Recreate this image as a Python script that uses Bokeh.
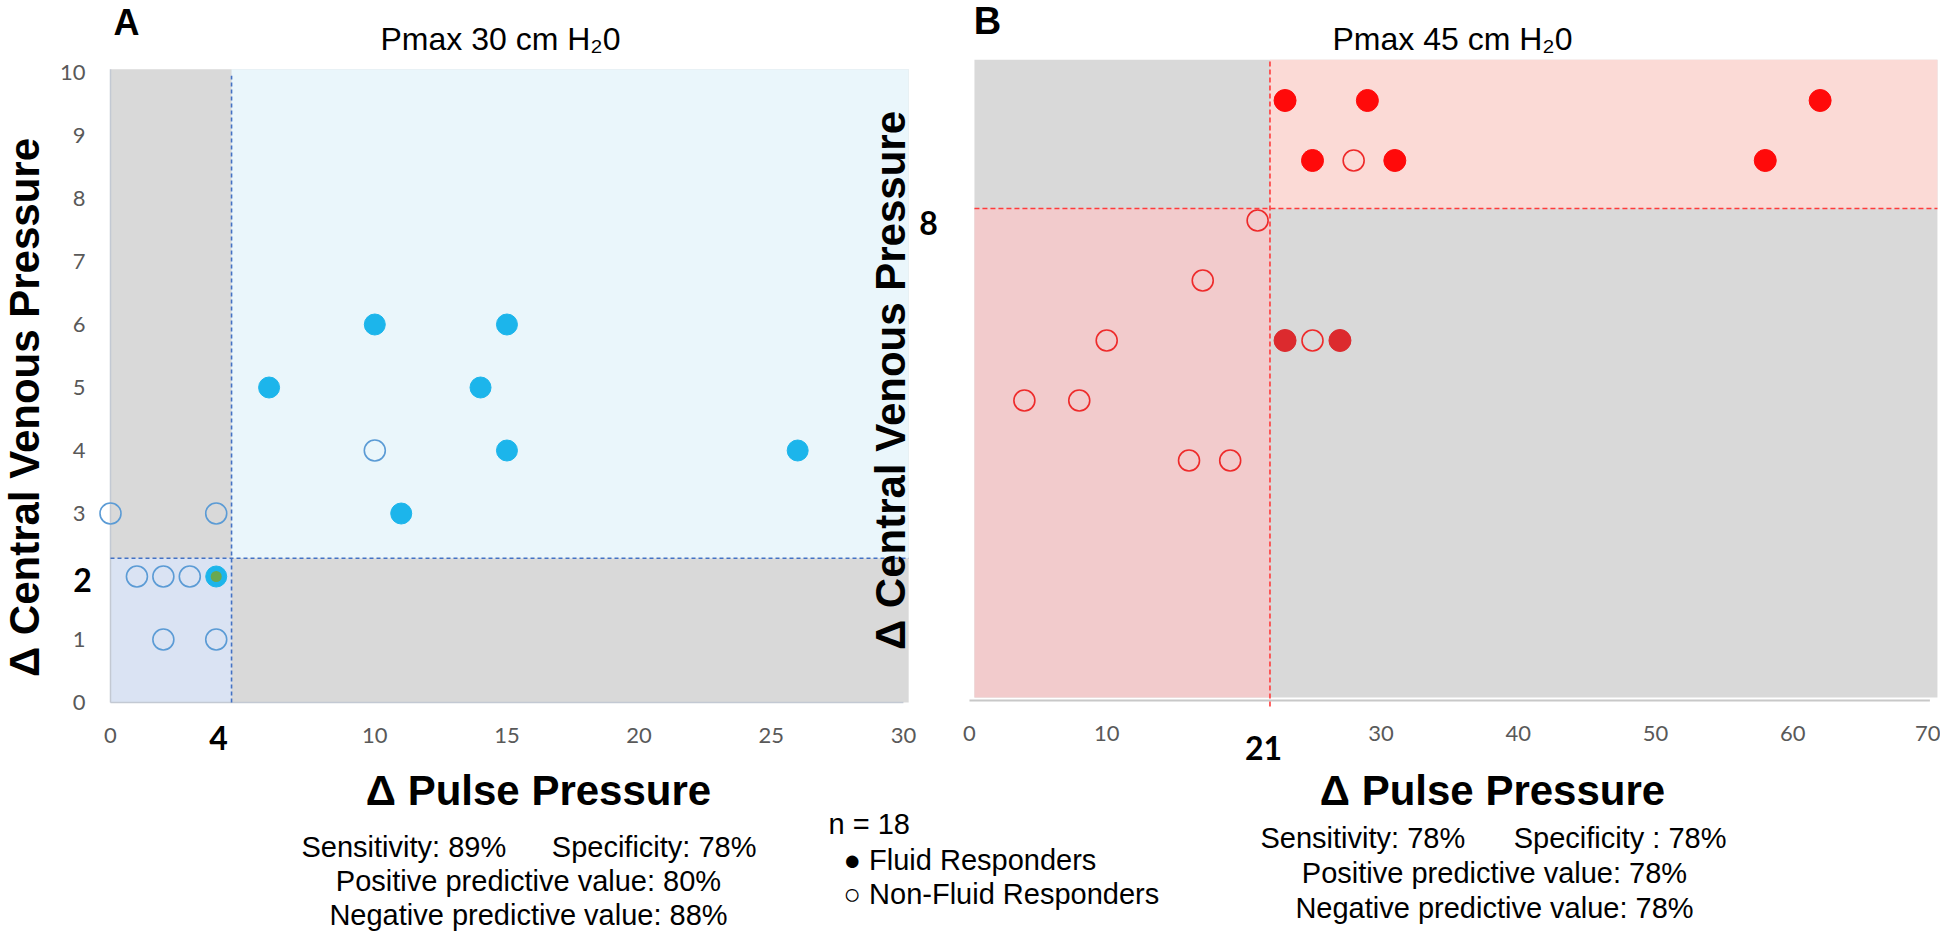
import math
from bokeh.plotting import figure
from bokeh.models import Range1d, FixedTicker, Label
from bokeh.layouts import row, column
from bokeh.embed import file_html
from bokeh.resources import INLINE

# ---------------- data ----------------
a_title = "Pmax 30 cm H₂0"
b_title = "Pmax 45 cm H₂0"
y_label = "Δ Central Venous Pressure"
x_label = "Δ Pulse Pressure"

# panel A (Pmax 30)
a_fill_x = [10, 15, 6, 14, 15, 26, 11, 4]
a_fill_y = [6, 6, 5, 5, 4, 4, 3, 2]
a_open_x = [10, 0, 4, 1, 2, 3, 2, 4]
a_open_y = [4, 3, 3, 2, 2, 2, 1, 1]
a_both_x = [4]
a_both_y = [2]
a_cut_x = 4.58
a_cut_y = 2.29
a_xmax = 30.2
a_ymax = 10.05
a_xticks = [0, 10, 15, 20, 25, 30]
a_yticks = [0, 1, 3, 4, 5, 6, 7, 8, 9, 10]
a_cut_x_label = "4"
a_cut_y_label = "2"

# panel B (Pmax 45)
b_fill_x = [23, 29, 62, 25, 31, 58]
b_fill_y = [10, 10, 10, 9, 9, 9]
b_dark_x = [23, 27]
b_dark_y = [6, 6]
b_open_x = [28, 21, 17, 10, 25, 4, 8, 16, 19]
b_open_y = [9, 8, 7, 6, 6, 5, 5, 4, 4]
b_cut_x = 21.9
b_cut_y = 8.2
b_xmin = 0.36
b_xmax = 70.55
b_ymin = 0.05
b_ymax = 10.68
b_xticks = [0, 10, 30, 40, 50, 60, 70]
b_cut_x_label = "21"
b_cut_y_label = "8"

a_stats = ["Sensitivity: 89%", "Specificity: 78%",
           "Positive predictive value: 80%", "Negative predictive value: 88%"]
b_stats = ["Sensitivity: 78%", "Specificity : 78%",
           "Positive predictive value: 78%", "Negative predictive value: 78%"]
legend_lines = ["n = 18", "● Fluid Responders", "○ Non-Fluid Responders"]

# ---------------- layout constants (page pixels) ----------------
PAGE_W, PAGE_H = 1940, 931
TOP_H = 766
A_W = 918
B_W = PAGE_W - A_W
C_H = PAGE_H - TOP_H

# panel A: pixel of data origin and pixels per unit
A_X0, A_UX = 110.0, 26.43
A_Y0, A_UY = 702.0, 63.0
# panel B
B_X0, B_UX = 969.0, 13.72
B_Y0, B_UY = 700.0, 60.0

a_xr = (-A_X0 / A_UX, (A_W - A_X0) / A_UX)
a_yr = (-(TOP_H - A_Y0) / A_UY, A_Y0 / A_UY)
b_xr = (-(B_X0 - A_W) / B_UX, (PAGE_W - B_X0) / B_UX)
b_yr = (-(TOP_H - B_Y0) / B_UY, B_Y0 / B_UY)


def ax(px):
    return (px - A_X0) / A_UX


def ay(py):
    return (A_Y0 - py) / A_UY


def bx(px):
    return (px - B_X0) / B_UX


def by(py):
    return (B_Y0 - py) / B_UY


SANS = "Liberation Sans"
TICK = "Lato"


def lab(p, x, y, text, size, bold=False, font=SANS, align="center",
        baseline="middle", color="black", angle=0.0):
    p.add_layout(Label(x=x, y=y, text=text, text_font=font,
                       text_font_size=f"{size}px",
                       text_font_style="bold" if bold else "normal",
                       text_align=align, text_baseline=baseline,
                       text_color=color, angle=angle))


def base_fig(w, h, xr, yr):
    p = figure(width=w, height=h, x_range=Range1d(*xr), y_range=Range1d(*yr),
               output_backend="svg", toolbar_location=None, min_border=0)
    p.grid.visible = False
    p.outline_line_color = None
    p.background_fill_color = "white"
    p.border_fill_color = "white"
    return p


def style_axis(axis, ticks, standoff):
    axis.fixed_location = 0
    axis.ticker = FixedTicker(ticks=ticks)
    axis.axis_line_color = None
    axis.major_tick_line_color = None
    axis.minor_tick_line_color = None
    axis.major_label_standoff = standoff
    axis.major_label_text_font = TICK
    axis.major_label_text_font_size = "22px"
    axis.major_label_text_color = "#595959"


# ---------------- panel A ----------------
pa = base_fig(A_W, TOP_H, a_xr, a_yr)

gray = "#d9d9d9"
pa.quad(left=[0], right=[a_xmax], bottom=[0], top=[a_ymax],
        fill_color=gray, line_color=None)
pa.quad(left=[0], right=[a_cut_x], bottom=[0], top=[a_cut_y],
        fill_color="#dae3f3", line_color=None)
pa.quad(left=[a_cut_x], right=[a_xmax], bottom=[a_cut_y], top=[a_ymax],
        fill_color="#eaf6fb", line_color=None)
pa.segment(x0=[0, 0], y0=[0, 0], x1=[0, 30], y1=[a_ymax, 0],
           line_color="#c3c9d3", line_width=1.5)
pa.segment(x0=[a_cut_x, 0], y0=[0, a_cut_y], x1=[a_cut_x, a_xmax],
           y1=[a_ymax - 0.1, a_cut_y], line_color="#4472c4", line_width=1.6,
           line_dash="4 3")
pa.scatter(a_fill_x, a_fill_y, size=21, marker="circle",
           fill_color="#1cb5eb", line_color="#1cb5eb", line_width=1)
pa.scatter(a_both_x, a_both_y, size=11, marker="circle",
           fill_color="#6aa84f", line_color=None)
pa.scatter(a_open_x, a_open_y, size=21, marker="circle", fill_color=None,
           line_color="#5b9bd5", line_width=1.6)

style_axis(pa.xaxis[0], a_xticks, 19)
style_axis(pa.yaxis[0], a_yticks, 19)

lab(pa, ax(126), ay(22), "A", 36, bold=True)
lab(pa, ax(500), ay(38), a_title, 32)
lab(pa, ax(24), ay(407), y_label, 42, bold=True, angle=math.pi / 2)
lab(pa, ax(890), ay(380), y_label, 42, bold=True, angle=math.pi / 2)
lab(pa, ax(82), ay(579), a_cut_y_label, 32, bold=True, font=TICK)
lab(pa, ax(218), ay(737), a_cut_x_label, 32, bold=True, font=TICK)

# ---------------- panel B ----------------
pb = base_fig(B_W, TOP_H, b_xr, b_yr)

pb.quad(left=[b_xmin], right=[b_xmax], bottom=[b_ymin], top=[b_ymax],
        fill_color=gray, line_color=None)
pb.quad(left=[b_xmin], right=[b_cut_x], bottom=[b_ymin], top=[b_cut_y],
        fill_color="#f2cbcc", line_color=None)
pb.quad(left=[b_cut_x], right=[b_xmax], bottom=[b_cut_y], top=[b_ymax],
        fill_color="#fbdad6", line_color=None)
pb.segment(x0=[0], y0=[0], x1=[70], y1=[0], line_color="#c8c8c8", line_width=2)
pb.segment(x0=[b_cut_x, b_xmin], y0=[-0.1, b_cut_y], x1=[b_cut_x, b_xmax],
           y1=[b_ymax, b_cut_y], line_color="#ff3c3c", line_width=1.6,
           line_dash="5 3")
pb.scatter(b_fill_x, b_fill_y, size=22, marker="circle",
           fill_color="#ff0a0a", line_color="#ff0a0a", line_width=1)
pb.scatter(b_dark_x, b_dark_y, size=22, marker="circle",
           fill_color="#dc2a2e", line_color="#dc2a2e", line_width=1)
pb.scatter(b_open_x, b_open_y, size=21, marker="circle", fill_color=None,
           line_color="#ee2a2a", line_width=1.6)

style_axis(pb.xaxis[0], b_xticks, 19)
pb.yaxis.visible = False

lab(pb, bx(987), by(20), "B", 38, bold=True)
lab(pb, bx(1452), by(38), b_title, 32)
lab(pb, bx(928), by(222), b_cut_y_label, 32, bold=True, font=TICK)
lab(pb, bx(1263), by(747), b_cut_x_label, 32, bold=True, font=TICK)

# ---------------- bottom texts ----------------
pc = figure(width=PAGE_W, height=C_H, x_range=Range1d(0, PAGE_W),
            y_range=Range1d(TOP_H + C_H, TOP_H), output_backend="svg",
            toolbar_location=None, min_border=0)
pc.axis.visible = False
pc.grid.visible = False
pc.outline_line_color = None
pc.background_fill_color = "white"
pc.border_fill_color = "white"

FS = 29
lab(pc, 538, 790, x_label, 42, bold=True)
lab(pc, 1492, 790, x_label, 42, bold=True)

lab(pc, 301, 846, a_stats[0], FS, align="left")
lab(pc, 756, 846, a_stats[1], FS, align="right")
lab(pc, 528, 880, a_stats[2], FS)
lab(pc, 528, 914, a_stats[3], FS)

lab(pc, 828, 823, legend_lines[0], FS, align="left")
lab(pc, 843, 859, legend_lines[1], FS, align="left")
lab(pc, 843, 893, legend_lines[2], FS, align="left")

lab(pc, 1260, 837, b_stats[0], FS, align="left")
lab(pc, 1726, 837, b_stats[1], FS, align="right")
lab(pc, 1494, 872, b_stats[2], FS)
lab(pc, 1494, 907, b_stats[3], FS)

layout = column(row(pa, pb), pc)
open("out.html", "w").write(file_html(layout, INLINE))
